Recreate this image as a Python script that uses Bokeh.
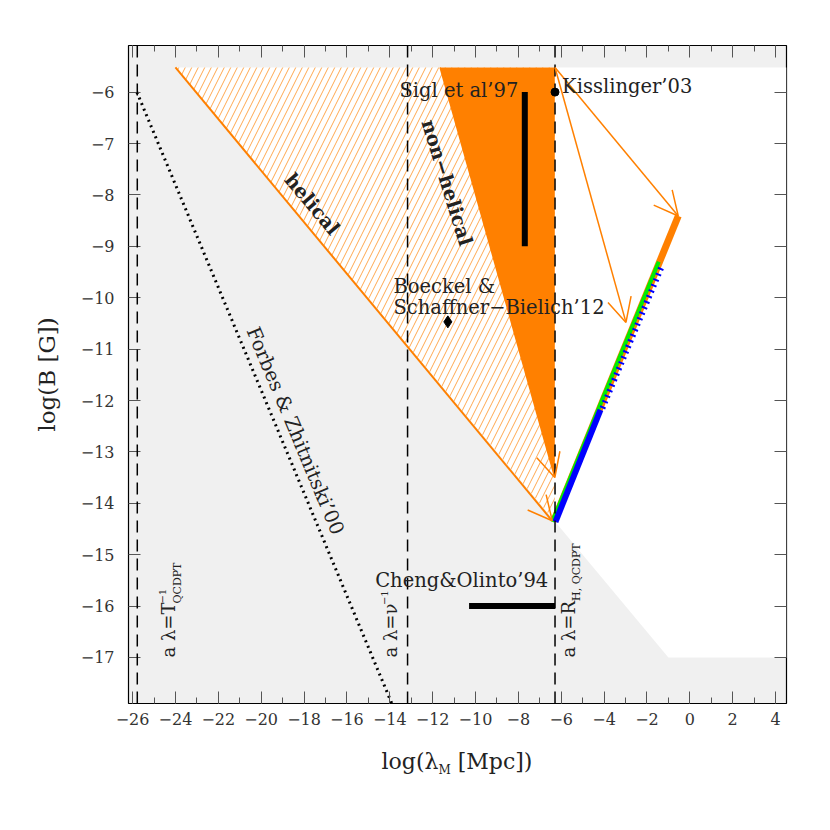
import math
from bokeh.plotting import figure
from bokeh.layouts import column
from bokeh.models import Range1d, FixedTicker, LinearAxis, Span, Arrow, OpenHead, Label, Div
from bokeh.embed import file_html
from bokeh.resources import INLINE

# ---------------- data ----------------
x_lim = (-26.19, 4.51)
y_lim = (-17.895, -5.093)
x_major = list(range(-26, 5, 2))
x_minor = list(range(-26, 5, 1))
y_major = list(range(-17, -5))

# allowed / excluded regions
top_edge = -5.52
helical_x = [-24.0, -6.3, -6.3]
helical_y = [top_edge, top_edge, -14.35]
nonhel_x = [-11.65, -6.3, -6.3]
nonhel_y = [top_edge, top_edge, -13.5]
white_x = [-6.3, 4.51, 4.51, -1.0, -6.3]
white_y = [top_edge, top_edge, -17.0, -17.0, -14.35]

# vertical scales
scale_x = [-25.78, -13.17, -6.29]

# Forbes & Zhitnitski dotted line
forbes_x = [-25.8, -13.9]
forbes_y = [-6.0, -17.9]

# observational / model points
kiss_x, kiss_y = [-6.29], [-6.0]
boeckel_x, boeckel_y = [-11.29], [-10.47]
sigl_x, sigl_y = [-7.7, -7.7], [-6.0, -9.0]
cheng_x, cheng_y = [-10.3, -6.29], [-16.0, -16.0]

# evolution tracks
helical_arrow = (-24.0, top_edge, -6.42, -14.34)
nonhel_arrow = (-11.65, top_edge, -6.3, -13.5)
kiss_arrows = [(-6.29, top_edge, -0.54, -8.41), (-6.29, top_edge, -2.98, -10.48)]
orange_track_x, orange_track_y = [-6.35, -0.54], [-14.35, -8.41]
green_track_x, green_track_y = [-6.42, -1.45], [-14.36, -9.30]
blue_dash_x, blue_dash_y = [-4.08, -1.28], [-12.15, -9.36]
blue_solid_x, blue_solid_y = [-6.27, -4.17], [-14.36, -12.18]

ORANGE = "#ff8000"
GREY = "#f0f0f0"
FONT = "DejaVu Serif"
TXT = "#222222"

p = figure(frame_width=658, frame_height=658, output_backend="svg", toolbar_location=None,
           x_range=Range1d(*x_lim), y_range=Range1d(*y_lim),
           min_border_left=128, min_border_right=30, min_border_top=45, min_border_bottom=42,
           background_fill_color=GREY, border_fill_color="white")
p.grid.visible = False
p.outline_line_color = "black"
p.outline_line_width = 1.2

# regions
p.patch(white_x, white_y, fill_color="white", line_color=None)
p.patch(helical_x, helical_y, fill_color="white", line_color=None,
        hatch_pattern="/", hatch_color="#ffa850", hatch_scale=13, hatch_weight=1)
p.patch(nonhel_x, nonhel_y, fill_color=ORANGE, line_color=None)

# dashed scale lines
for xs in scale_x:
    p.add_layout(Span(location=xs, dimension="height", line_color="black",
                      line_width=1.5, line_dash="12 7"))

# dotted line
p.line(forbes_x, forbes_y, line_color="black", line_width=3, line_dash="2 4")

# arrows
def arrow(a, w):
    p.add_layout(Arrow(x_start=a[0], y_start=a[1], x_end=a[2], y_end=a[3],
                       line_color=ORANGE, line_width=w,
                       end=OpenHead(size=24, line_color=ORANGE, line_width=1.5)))
arrow(helical_arrow, 2)
arrow(nonhel_arrow, 1.5)
for a in kiss_arrows:
    arrow(a, 1.5)

# tracks
p.line(orange_track_x, orange_track_y, line_color=ORANGE, line_width=7)
p.line(green_track_x, green_track_y, line_color="#00ee00", line_width=4)
p.line(blue_solid_x, blue_solid_y, line_color="#0000ff", line_width=6)
p.line(blue_dash_x, blue_dash_y, line_color="#0000ff", line_width=6, line_dash="2 4")

# bars and points
p.line(sigl_x, sigl_y, line_color="black", line_width=6)
p.line(cheng_x, cheng_y, line_color="black", line_width=6)
p.scatter(kiss_x, kiss_y, marker="circle", size=8, color="black")
p.scatter(boeckel_x, boeckel_y, marker="diamond", size=12, color="black")

# texts
def lab(x, y, t, size=19.5, align="left", base="middle", angle=0.0, style="normal", color=TXT):
    p.add_layout(Label(x=x, y=y, text=t, text_font=FONT, text_font_size=f"{size}px",
                       text_align=align, text_baseline=base, angle=angle,
                       text_font_style=style, text_color=color))

lab(-8.0, -5.97, "Sigl et al\u201997", align="right")
lab(-5.96, -5.9, "Kisslinger\u201903")
lab(-13.83, -9.78, "Boeckel &")
lab(-13.83, -10.19, "Schaffner\u2212Bielich\u201912")
lab(-14.68, -15.5, "Cheng&Olinto\u201994")
lab(-11.34, -7.76, "non\u2212helical", align="center", angle=-math.radians(72.9), style="bold")
lab(-17.63, -8.18, "helical", align="center", angle=-math.radians(50.1), style="bold")
lab(-18.41, -12.59, "Forbes & Zhitnitski\u201900", align="center", angle=-math.radians(67.3))

# rotated scale labels
up = math.pi / 2
lab(-24.32, -17.0, "a \u03bb=T", size=18, align="left", angle=up)
lab(-24.62, -15.95, "\u22121", size=10, align="left", angle=up)
lab(-23.92, -15.95, "QCDPT", size=11, align="left", angle=up)
lab(-13.97, -17.0, "a \u03bb=\u03bd", size=18, align="left", angle=up)
lab(-14.25, -15.98, "\u22121", size=10, align="left", angle=up)
lab(-5.68, -17.0, "a \u03bb=R", size=18, align="left", angle=up)
lab(-5.3, -15.9, "H, QCDPT", size=11, align="left", angle=up)

# axes
def style_axis(ax, ticks, minor, labels=True):
    ax.ticker = FixedTicker(ticks=ticks, minor_ticks=minor)
    ax.major_tick_in = 12
    ax.major_tick_out = 0
    ax.minor_tick_in = 6
    ax.minor_tick_out = 0
    ax.major_tick_line_color = "#555555"
    ax.minor_tick_line_color = "#555555"
    ax.axis_line_color = None
    if labels:
        ax.major_label_overrides = {t: ("\u2212" + str(abs(t)) if t < 0 else str(t)) for t in ticks}
        ax.major_label_text_font = FONT
        ax.major_label_text_font_size = "16px"
        ax.major_label_text_color = "#333333"
    else:
        ax.major_label_overrides = {t: "" for t in ticks}

xa = p.xaxis[0]
style_axis(xa, x_major, x_minor)
xa.major_label_standoff = 9
ya = p.yaxis[0]
style_axis(ya, y_major, [])
ya.major_label_standoff = 14
ya.axis_label = "log(B [G])"
ya.axis_label_text_font = FONT
ya.axis_label_text_font_size = "23px"
ya.axis_label_text_font_style = "normal"
ya.axis_label_text_color = TXT
ya.axis_label_standoff = 18

top = LinearAxis()
style_axis(top, x_major, x_minor, labels=False)
p.add_layout(top, "above")
right = LinearAxis()
style_axis(right, y_major, [], labels=False)
p.add_layout(right, "right")

# x axis title with subscript (HTML text)
xlabel = Div(text="log(\u03bb<sub style='font-size:12px'>M</sub> [Mpc])", width=658, height=40,
             margin=(4, 0, 0, 128),
             styles={"font-family": FONT, "font-size": "22px", "color": TXT,
                     "text-align": "center", "line-height": "26px", "width": "658px"})

layout = column(p, xlabel)
open("out.html", "w").write(file_html(layout, INLINE))
